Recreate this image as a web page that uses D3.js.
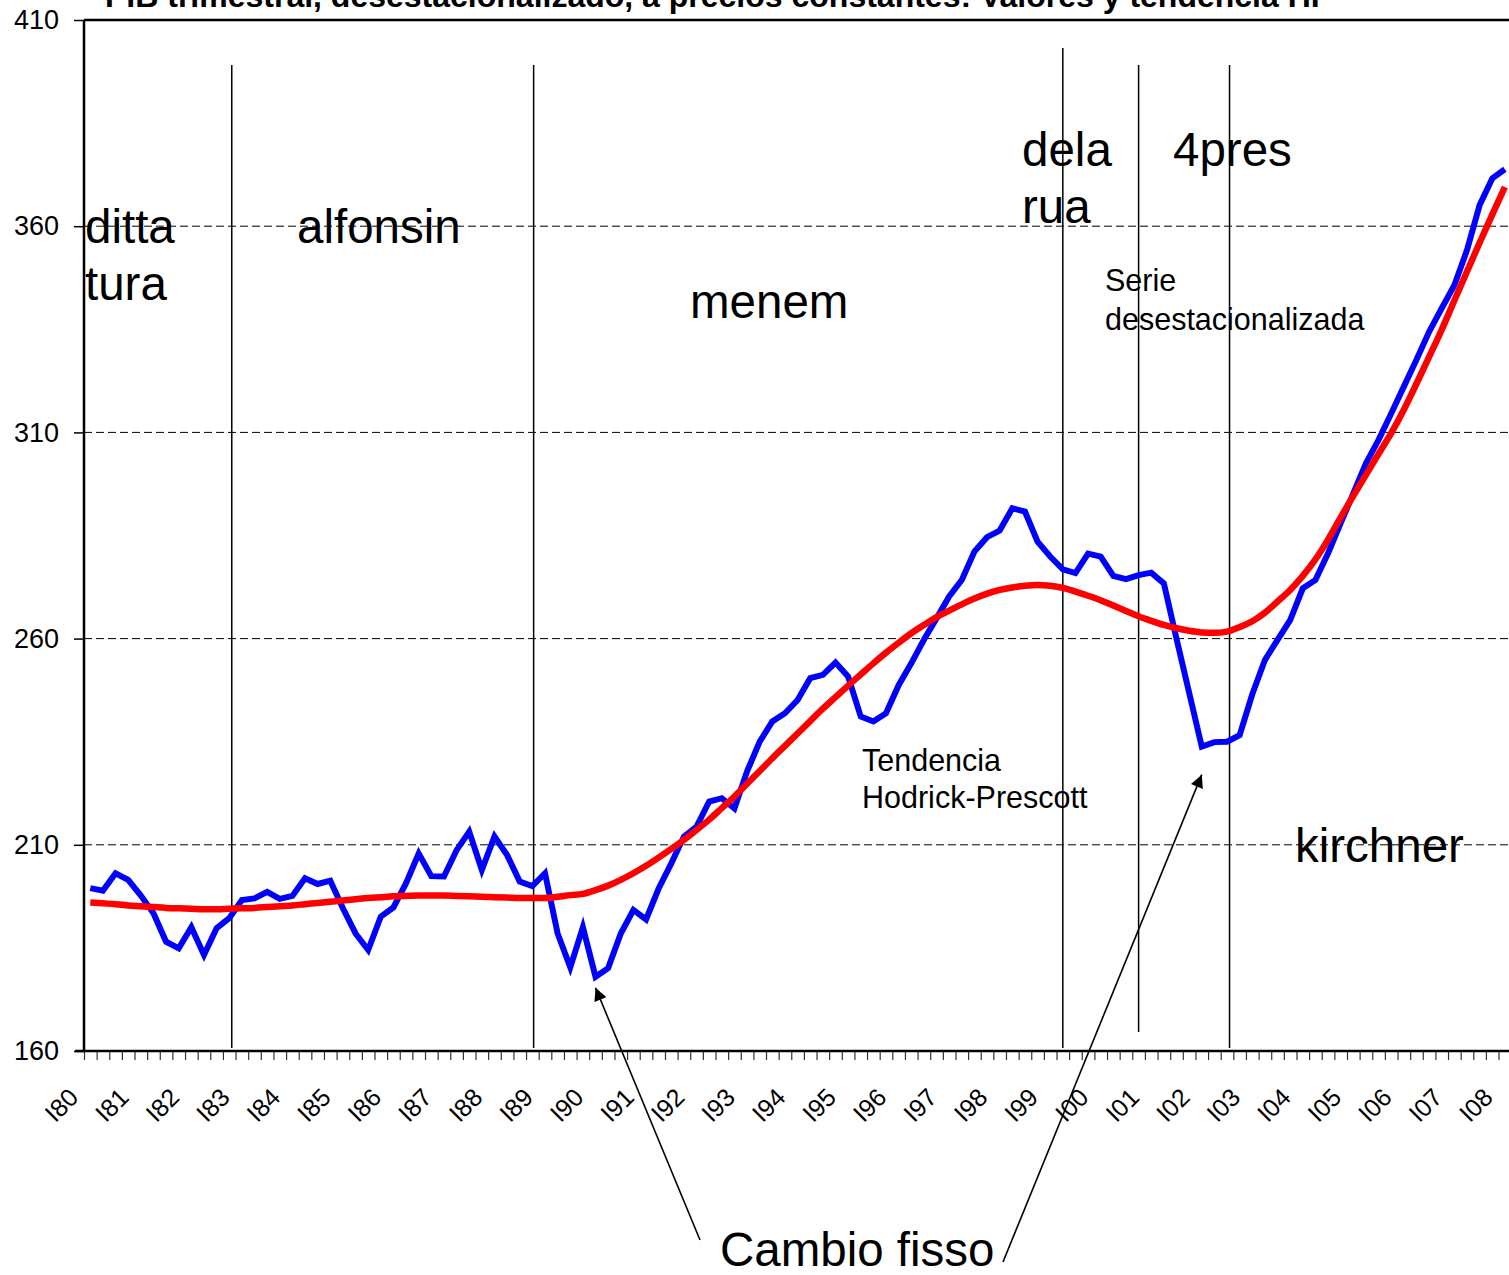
<!DOCTYPE html>
<html>
<head>
<meta charset="utf-8">
<script src="https://cdnjs.cloudflare.com/ajax/libs/d3/7.8.5/d3.min.js"></script>
<style>
  body { margin: 0; background: #ffffff; }
  svg { display: block; font-family: Arial, "Liberation Sans", sans-serif; }
</style>
</head>
<body>
<div id="chart"></div>
<script>
// year labels, one every 4 quarters (I80 = first quarter 1980)
var yearLabels = ["I80","I81","I82","I83","I84","I85","I86","I87","I88","I89",
    "I90","I91","I92","I93","I94","I95","I96","I97","I98","I99",
    "I00","I01","I02","I03","I04","I05","I06","I07","I08"];

// PIB trimestral desestacionalizado (1980Q1 - 2008Q1)
var serieValues = [
    199.5, 198.9, 203.1, 201.5, 197.7, 193.4, 186.5, 184.9, 190.0, 183.3,
    189.8, 192.2, 196.6, 197.0, 198.6, 196.9, 197.6, 201.9, 200.5, 201.3,
    194.6, 188.5, 184.5, 192.6, 194.8, 200.7, 207.9, 202.4, 202.3, 208.7,
    213.2, 203.9, 212.0, 207.5, 201.1, 200.0, 203.1, 188.5, 180.3, 190.0,
    178.0, 180.1, 188.5, 194.2, 191.9, 199.4, 205.5, 212.0, 214.4, 220.5,
    221.3, 218.8, 227.8, 235.0, 239.9, 241.9, 245.1, 250.4, 251.2, 254.2,
    250.8, 241.1, 239.9, 241.9, 248.7, 254.0, 259.7, 264.9, 270.2, 274.2,
    281.1, 284.6, 286.2, 291.6, 290.8, 283.5, 279.9, 276.8, 275.9, 280.6,
    279.9, 275.2, 274.4, 275.4, 276.0, 273.4, 260.0, 246.9, 233.8, 234.9,
    235.0, 236.6, 246.5, 254.8, 259.7, 264.5, 272.2, 274.2, 280.7, 288.0,
    295.2, 302.5, 308.2, 314.6, 321.1, 327.6, 334.4, 340.1, 345.7, 354.2,
    365.1, 371.6, 373.8];

// tendencia Hodrick-Prescott
var trendValues = [
    196.0, 195.8, 195.6, 195.3, 195.1, 194.9, 194.7, 194.6, 194.5, 194.4,
    194.4, 194.5, 194.6, 194.7, 194.9, 195.1, 195.3, 195.6, 195.9, 196.2,
    196.5, 196.8, 197.1, 197.3, 197.5, 197.6, 197.7, 197.7, 197.7, 197.6,
    197.5, 197.4, 197.3, 197.2, 197.1, 197.1, 197.1, 197.4, 197.8, 198.1,
    199.0, 200.1, 201.5, 203.1, 204.9, 206.9, 209.0, 211.2, 213.6, 216.1,
    218.9, 221.7, 224.8, 227.9, 231.0, 234.0, 237.0, 240.0, 243.0, 245.8,
    248.6, 251.3, 254.0, 256.6, 259.0, 261.3, 263.3, 265.2, 266.8, 268.3,
    269.7, 270.9, 271.8, 272.4, 272.8, 273.0, 272.8, 272.3, 271.4, 270.4,
    269.3, 268.0, 266.7, 265.4, 264.3, 263.3, 262.5, 261.9, 261.5, 261.4,
    261.7, 262.8, 264.2, 266.3, 269.0, 271.8, 275.2, 279.2, 284.0, 289.4,
    294.6, 299.7, 304.8, 309.8, 315.5, 321.8, 328.3, 334.9, 342.0, 349.0,
    356.0, 362.8, 369.5];

var yTicks = [160, 210, 260, 310, 360, 410];

// vertical lines between governments (quarter index, value range)
var eraLines = [
    { at: 11.2, from: 160.7, to: 399.1 },
    { at: 35.1, from: 160.7, to: 399.1 },
    { at: 77.0, from: 160.7, to: 403.2 },
    { at: 83.0, from: 164.6, to: 399.1 },
    { at: 90.2, from: 160.7, to: 399.1 }
];

(function () {

    var W = 1509, H = 1275;
    var margin = { left: 84, top: 20 };
    var step = 12.63;              // width of one quarter
    var n = serieValues.length;
    var plotBottom = 1051;

    var svg = d3.select("#chart").append("svg")
        .attr("width", W)
        .attr("height", H);

    // quarter index -> x, values -> y
    var x = d3.scaleLinear()
        .domain([-0.5, n - 0.5])
        .range([margin.left, margin.left + n * step]);

    var y = d3.scaleLinear()
        .domain([160, 410])
        .range([plotBottom, margin.top]);

    // title (cut off at the top like the original)
    svg.append("text")
        .attr("x", 105)
        .attr("y", 7)
        .style("font-size", "32px")
        .style("font-weight", "bold")
        .style("fill", "#000")
        .text("PIB trimestral, desestacionalizado, a precios constantes: Valores  y tendencia HP");

    // dashed gridlines
    svg.append("g").selectAll("line")
        .data(yTicks.filter(function (d) { return d > 160 && d < 410; }))
        .enter().append("line")
        .attr("x1", x(-0.5))
        .attr("x2", W)
        .attr("y1", function (d) { return y(d); })
        .attr("y2", function (d) { return y(d); })
        .attr("stroke", "#000")
        .attr("stroke-width", 1)
        .attr("stroke-dasharray", "8,4");

    // top frame line
    svg.append("line")
        .attr("x1", x(-0.5)).attr("x2", W)
        .attr("y1", y(410)).attr("y2", y(410))
        .attr("stroke", "#000").attr("stroke-width", 2.5);

    // y axis
    var yAxis = d3.axisLeft(y).tickValues(yTicks).tickSize(10).tickPadding(15);
    var gy = svg.append("g")
        .attr("transform", "translate(" + x(-0.5) + ",0)")
        .call(yAxis);
    gy.select(".domain").remove();
    gy.selectAll(".tick line").attr("stroke", "#000").attr("stroke-width", 1.5);
    gy.selectAll("text")
        .style("font-size", "27px")
        .style("font-family", "Arial, 'Liberation Sans', sans-serif")
        .style("fill", "#000");

    svg.append("line")
        .attr("x1", x(-0.5)).attr("x2", x(-0.5))
        .attr("y1", y(410)).attr("y2", y(160))
        .attr("stroke", "#000").attr("stroke-width", 2.5);

    // x axis: a tick at every quarter boundary
    var xAxis = d3.axisBottom(x)
        .tickValues(d3.range(0, n + 1).map(function (i) { return i - 0.5; }))
        .tickSize(9)
        .tickFormat("");
    var gx = svg.append("g")
        .attr("transform", "translate(0," + plotBottom + ")")
        .call(xAxis);
    gx.select(".domain").remove();
    gx.selectAll(".tick line").attr("stroke", "#333").attr("stroke-width", 1.2);

    // year labels, rotated
    var labelAxis = d3.axisBottom(x)
        .tickValues(yearLabels.map(function (d, i) { return i * 4; }))
        .tickSize(0)
        .tickFormat(function (d) { return yearLabels[d / 4]; });
    var gl = svg.append("g")
        .attr("transform", "translate(0," + plotBottom + ")")
        .call(labelAxis);
    gl.select(".domain").remove();
    gl.selectAll("text")
        .attr("x", 0).attr("y", 0).attr("dy", 0)
        .attr("transform", "translate(-11,48) rotate(-45)")
        .style("text-anchor", "end")
        .style("font-size", "25px")
        .style("font-family", "Arial, 'Liberation Sans', sans-serif")
        .style("fill", "#000");

    svg.append("line")
        .attr("x1", 75).attr("x2", W)
        .attr("y1", plotBottom).attr("y2", plotBottom)
        .attr("stroke", "#000").attr("stroke-width", 2.5);

    // era separators
    svg.append("g").selectAll("line")
        .data(eraLines)
        .enter().append("line")
        .attr("x1", function (d) { return x(d.at); })
        .attr("x2", function (d) { return x(d.at); })
        .attr("y1", function (d) { return y(d.from); })
        .attr("y2", function (d) { return y(d.to); })
        .attr("stroke", "#000")
        .attr("stroke-width", 1.5);

    // series lines
    var line = d3.line()
        .x(function (d, i) { return x(i); })
        .y(function (d) { return y(d); });

    svg.append("path")
        .datum(serieValues)
        .attr("d", line)
        .attr("fill", "none")
        .attr("stroke", "#0000ff")
        .attr("stroke-width", 6)
        .attr("stroke-linejoin", "miter");

    svg.append("path")
        .datum(trendValues)
        .attr("d", d3.line().curve(d3.curveMonotoneX)
            .x(function (d, i) { return x(i); })
            .y(function (d) { return y(d); }))
        .attr("fill", "none")
        .attr("stroke", "#ff0000")
        .attr("stroke-width", 6.5);

    // annotations
    var notes = [
        { t: ["ditta", "tura"], x: 85, y: 243, size: 47.5, lh: 57 },
        { t: ["alfonsin"], x: 297, y: 243, size: 47.5, lh: 57 },
        { t: ["menem"], x: 690, y: 318, size: 47.5, lh: 57 },
        { t: ["dela", "rua"], x: 1022, y: 166, size: 47.5, lh: 57 },
        { t: ["4pres"], x: 1173, y: 166, size: 47.5, lh: 57 },
        { t: ["Serie", "desestacionalizada"], x: 1105, y: 291, size: 30.5, lh: 39 },
        { t: ["Tendencia", "Hodrick-Prescott"], x: 862, y: 771, size: 30.5, lh: 37 },
        { t: ["kirchner"], x: 1295, y: 862, size: 47.5, lh: 57 },
        { t: ["Cambio fisso"], x: 720, y: 1266, size: 47.5, lh: 57 }
    ];

    notes.forEach(function (d) {
        var txt = svg.append("text")
            .attr("x", d.x)
            .attr("y", d.y)
            .style("font-size", d.size + "px")
            .style("fill", "#000");
        d.t.forEach(function (s, k) {
            txt.append("tspan")
                .attr("x", d.x)
                .attr("y", d.y + k * d.lh)
                .text(s);
        });
    });

    // arrows to the fixed exchange rate points
    svg.append("defs").append("marker")
        .attr("id", "arrow")
        .attr("viewBox", "0 0 10 10")
        .attr("refX", 10).attr("refY", 5)
        .attr("markerWidth", 9).attr("markerHeight", 8)
        .attr("markerUnits", "strokeWidth")
        .attr("orient", "auto")
        .append("path")
        .attr("d", "M0,0L10,5L0,10z")
        .attr("fill", "#000");

    var arrows = [
        { from: [700, 1240], idx: 40, dy: 11 },
        { from: [1003, 1262], idx: 88, dy: 28 }
    ];
    svg.append("g").selectAll("line")
        .data(arrows)
        .enter().append("line")
        .attr("x1", function (d) { return d.from[0]; })
        .attr("y1", function (d) { return d.from[1]; })
        .attr("x2", function (d) { return x(d.idx); })
        .attr("y2", function (d) { return y(serieValues[d.idx]) + d.dy; })
        .attr("stroke", "#000")
        .attr("stroke-width", 1.6)
        .attr("marker-end", "url(#arrow)");

})();
</script>
</body>
</html>
